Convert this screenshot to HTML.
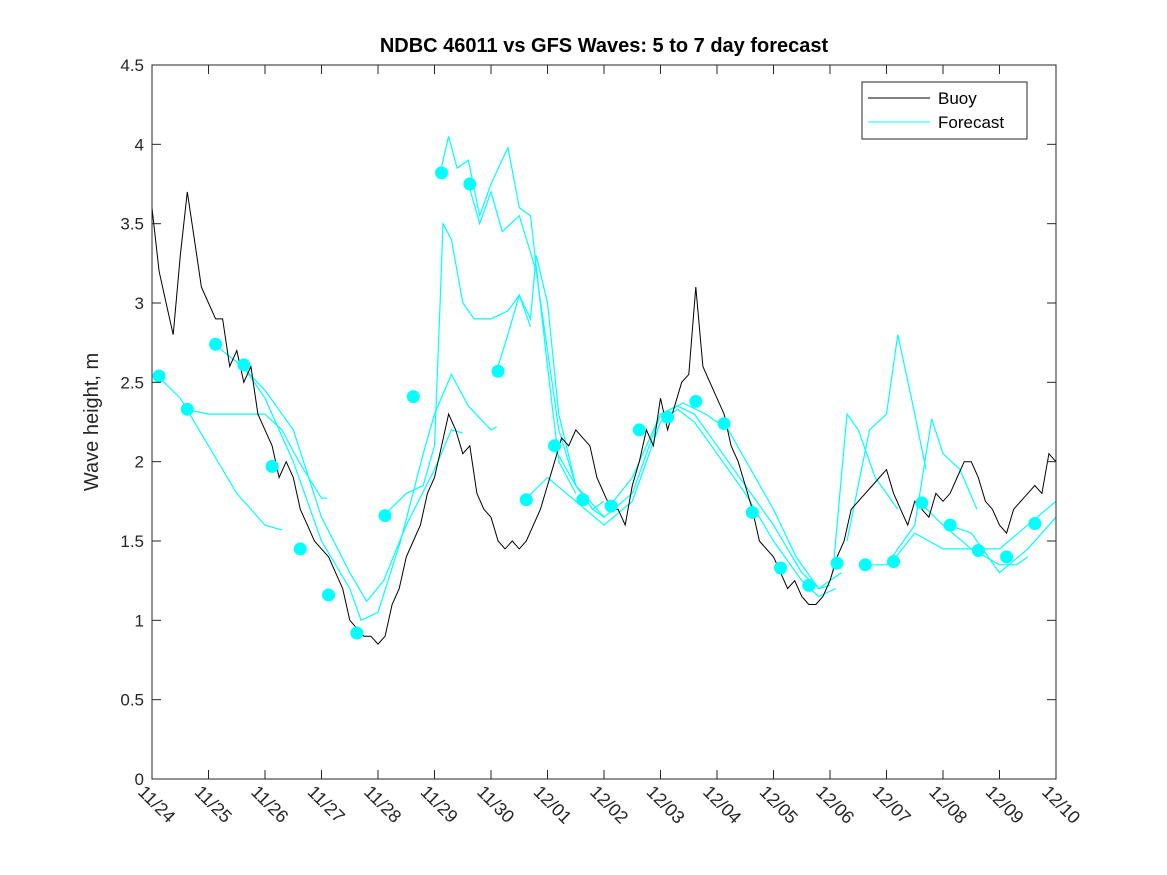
<!DOCTYPE html>
<html><head><meta charset="utf-8"><style>
body{margin:0;background:#fff}
svg{display:block;font-family:"Liberation Sans","DejaVu Sans",sans-serif}
</style></head><body>
<svg id="chart" width="1167" height="875" viewBox="0 0 1167 875">
<rect x="0" y="0" width="1167" height="875" fill="#fff"/>
<text x="604" y="52" text-anchor="middle" font-size="20" font-weight="bold" fill="#000">NDBC 46011 vs GFS Waves: 5 to 7 day forecast</text>
<text transform="translate(98,422) rotate(-90)" text-anchor="middle" font-size="20" fill="#262626">Wave height, m</text>
<g id="plot"></g>
<rect x="152" y="65" width="904" height="714" fill="none" stroke="#262626" stroke-width="1"/>
<g id="axes"></g>
<g>
<rect x="862" y="82" width="165" height="57" fill="#fff" stroke="#262626" stroke-width="1"/>
<line x1="868" y1="98" x2="930" y2="98" stroke="#000"/>
<text x="938" y="104" font-size="17" fill="#000">Buoy</text>
<line x1="868" y1="122" x2="930" y2="122" stroke="#00ffff"/>
<text x="938" y="128" font-size="17" fill="#000">Forecast</text>
</g>
</svg>
<script>
const xTickLabels=["11/24","11/25","11/26","11/27","11/28","11/29","11/30","12/01","12/02","12/03","12/04","12/05","12/06","12/07","12/08","12/09","12/10"];
const yTicks=[0,0.5,1,1.5,2,2.5,3,3.5,4,4.5];
const buoyDays=[0,0.125,0.25,0.375,0.5,0.625,0.75,0.875,
1,1.125,1.25,1.375,1.5,1.625,1.75,1.875,
2,2.125,2.25,2.375,2.5,2.625,2.75,2.875,
3,3.125,3.25,3.375,3.5,3.625,3.75,3.875,
4,4.125,4.25,4.375,4.5,4.625,4.75,4.875,
5,5.125,5.25,5.375,5.5,5.625,5.75,5.875,
6,6.125,6.25,6.375,6.5,6.625,6.75,6.875,
7,7.125,7.25,7.375,7.5,7.625,7.75,7.875,
8,8.125,8.25,8.375,8.5,8.625,8.75,8.875,
9,9.125,9.25,9.375,9.5,9.625,9.75,9.875,
10,10.125,10.25,10.375,10.5,10.625,10.75,10.875,
11,11.125,11.25,11.375,11.5,11.625,11.75,11.875,
12,12.125,12.25,12.375,12.5,12.625,12.75,12.875,
13,13.125,13.25,13.375,13.5,13.625,13.75,13.875,
14,14.125,14.25,14.375,14.5,14.625,14.75,14.875,
15,15.125,15.25,15.375,15.5,15.625,15.75,15.875,16];
const buoyValues=[3.6,3.2,3.0,2.8,3.3,3.7,3.4,3.1,
3.0,2.9,2.9,2.6,2.7,2.5,2.6,2.3,
2.2,2.1,1.9,2.0,1.9,1.7,1.6,1.5,
1.45,1.4,1.3,1.2,1.0,0.95,0.9,0.9,
0.85,0.9,1.1,1.2,1.4,1.5,1.6,1.8,
1.9,2.1,2.3,2.2,2.05,2.1,1.8,1.7,
1.65,1.5,1.45,1.5,1.45,1.5,1.6,1.7,
1.85,2.0,2.15,2.1,2.2,2.15,2.1,1.9,
1.8,1.7,1.7,1.6,1.85,2.0,2.2,2.1,
2.4,2.2,2.35,2.5,2.55,3.1,2.6,2.5,
2.4,2.3,2.1,2.0,1.85,1.7,1.5,1.45,
1.4,1.3,1.2,1.25,1.15,1.1,1.1,1.15,
1.25,1.4,1.5,1.7,1.75,1.8,1.85,1.9,
1.95,1.8,1.7,1.6,1.75,1.7,1.65,1.8,
1.75,1.8,1.9,2.0,2.0,1.9,1.75,1.7,
1.6,1.55,1.7,1.75,1.8,1.85,1.8,2.05,2.0];
const dotDays=[0.125,0.625,1.125,1.625,2.125,2.625,3.125,3.625,4.125,4.625,5.125,5.625,6.125,6.625,7.125,7.625,8.125,8.625,9.125,9.625,10.125,10.625,11.125,11.625,12.125,12.625,13.125,13.625,14.125,14.625,15.125,15.625];
const dotValues=[2.54,2.33,2.74,2.61,1.97,1.45,1.16,0.92,1.66,2.41,3.82,3.75,2.57,1.76,2.10,1.76,1.72,2.20,2.28,2.38,2.24,1.68,1.33,1.22,1.36,1.35,1.37,1.74,1.60,1.44,1.40,1.61];
const fcA_d=[0.1,0.5,1,1.5,2,2.3],fcA_v=[2.54,2.4,2.1,1.8,1.6,1.57];
const fcB_d=[0.6,1,1.5,2,2.3,2.6,3,3.1],fcB_v=[2.33,2.3,2.3,2.3,2.2,2.0,1.77,1.77];
const fcC_d=[1.1,1.6,2,2.5,3,3.5,3.8,4.1,4.5,5,5.3,5.5],fcC_v=[2.74,2.6,2.45,2.2,1.65,1.3,1.12,1.25,1.6,1.95,2.2,2.18];
const fcD_d=[1.6,2,2.5,3,3.5,3.7,4,4.4,4.8,5,5.3,5.6,6,6.1],fcD_v=[2.61,2.4,2.0,1.5,1.2,1.0,1.05,1.5,2.05,2.3,2.55,2.35,2.2,2.22];
const fcE_d=[4.1,4.5,4.8,5,5.1,5.15,5.3,5.5,5.7,6,6.3,6.5,6.7],fcE_v=[1.66,1.8,1.85,2.1,3.0,3.5,3.4,3.0,2.9,2.9,2.95,3.05,2.85];
const fcF_d=[5.1,5.25,5.4,5.6,5.8,6,6.3,6.5,6.7,7,7.2,7.5],fcF_v=[3.82,4.05,3.85,3.9,3.55,3.75,3.98,3.6,3.55,2.6,2.0,1.8];
const fcG_d=[5.6,5.8,6,6.2,6.5,6.8,7,7.2,7.5,7.8,8],fcG_v=[3.75,3.5,3.7,3.45,3.55,3.2,2.7,2.2,1.85,1.7,1.75];
const fcH_d=[6.1,6.3,6.5,6.7,6.8,7,7.2,7.5,7.8,8],fcH_v=[2.57,2.8,3.05,2.9,3.3,3.0,2.3,1.85,1.7,1.65];
const fcI_d=[7.1,7.5,8,8.5,9,9.3,9.6,10,10.5,11,11.5,11.8,12],fcI_v=[2.1,1.85,1.65,1.8,2.3,2.35,2.3,2.1,1.85,1.6,1.3,1.2,1.22];
const fcJ_d=[6.6,7,7.5,8,8.5,9,9.3,9.6,10,10.5,11,11.5,11.8,12.1],fcJ_v=[1.76,1.9,1.75,1.6,1.75,2.25,2.33,2.25,2.05,1.8,1.5,1.25,1.15,1.2];
const fcK_d=[8.1,8.5,9,9.4,9.8,10.2,10.6,11,11.4,11.8,12.2],fcK_v=[1.72,1.9,2.3,2.37,2.3,2.2,1.95,1.7,1.4,1.2,1.3];
const fcL_d=[12.05,12.3,12.5,12.8,13,13.2],fcL_v=[1.3,2.3,2.2,1.9,1.8,1.7];
const fcM_d=[12.3,12.7,13,13.2,13.5,13.7],fcM_v=[1.5,2.2,2.3,2.8,2.3,1.95];
const fcN_d=[12.6,13,13.5,13.8,14,14.3,14.6],fcN_v=[1.35,1.35,1.6,2.27,2.05,1.95,1.7];
const fcO_d=[13.1,13.5,14,14.5,15,15.3,15.5],fcO_v=[1.37,1.55,1.45,1.45,1.35,1.35,1.4];
const fcP_d=[13.6,14,14.5,15,15.5,16],fcP_v=[1.74,1.6,1.45,1.45,1.6,1.75];
const fcQ_d=[14.1,14.5,15,15.5,16],fcQ_v=[1.6,1.55,1.3,1.45,1.65];
const forecastDays=[fcA_d,fcB_d,fcC_d,fcD_d,fcE_d,fcF_d,fcG_d,fcH_d,fcI_d,fcJ_d,fcK_d,fcL_d,fcM_d,fcN_d,fcO_d,fcP_d,fcQ_d];
const forecastValues=[fcA_v,fcB_v,fcC_v,fcD_v,fcE_v,fcF_v,fcG_v,fcH_v,fcI_v,fcJ_v,fcK_v,fcL_v,fcM_v,fcN_v,fcO_v,fcP_v,fcQ_v];

const NS="http://www.w3.org/2000/svg";
const X0=152,X1=1056,Y0=779,Y1=65,DMAX=16,VMAX=4.5;
function xs(d){return X0+(X1-X0)*d/DMAX;}
function ys(v){return Y0-(Y0-Y1)*v/VMAX;}
const plot=document.getElementById('plot'),axes=document.getElementById('axes');
function mk(t,a,p){const e=document.createElementNS(NS,t);for(const k in a)e.setAttribute(k,a[k]);p.appendChild(e);return e;}

forecastDays.forEach((ds,i)=>{
  const pts=ds.map((d,j)=>xs(d).toFixed(1)+','+ys(forecastValues[i][j]).toFixed(1)).join(' ');
  const pl=mk('polyline',{points:pts,fill:'none',stroke:'#00ffff','stroke-width':1.2},plot);
  
  
});
const bp=buoyDays.map((d,j)=>xs(d).toFixed(1)+','+ys(buoyValues[j]).toFixed(1)).join(' ');
const bl=mk('polyline',{points:bp,fill:'none',stroke:'#000','stroke-width':1},plot);


dotDays.forEach((d,i)=>{
  const c=mk('circle',{cx:xs(d),cy:ys(dotValues[i]),r:6.5,fill:'#00ffff'},plot);
  
  
});
yTicks.forEach(v=>{
  const y=ys(v);
  mk('line',{x1:X0,y1:y,x2:X0+9,y2:y,stroke:'#262626'},axes);
  mk('line',{x1:X1,y1:y,x2:X1-9,y2:y,stroke:'#262626'},axes);
  const t=mk('text',{x:X0-8,y:y+6,'text-anchor':'end','font-size':17,fill:'#262626'},axes);
  t.textContent=String(v);
  
  
});
xTickLabels.forEach((lab,i)=>{
  const x=xs(i);
  mk('line',{x1:x,y1:Y0,x2:x,y2:Y0-9,stroke:'#262626'},axes);
  mk('line',{x1:x,y1:Y1,x2:x,y2:Y1+9,stroke:'#262626'},axes);
  const t=mk('text',{transform:'translate('+(x-15)+','+(Y0+14)+') rotate(45)','font-size':18,fill:'#262626'},axes);
  t.textContent=lab;
  
  
});
</script>
</body></html>
